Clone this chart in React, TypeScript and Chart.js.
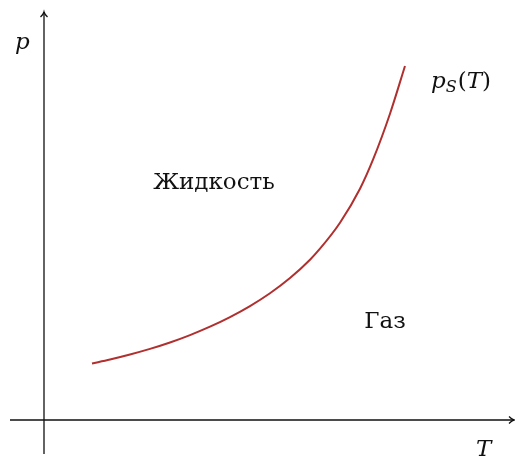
import React, { useEffect, useRef } from "react";
import { Chart, registerables } from "chart.js";

Chart.register(...registerables);

// Saturation curve p_S(T) (arbitrary units)
const curveT = [4.8, 6.6, 8.6, 10.6, 12.6, 14.6, 16.6, 18.6, 20.6, 22.6, 24.6, 26.6, 27.6, 29.6, 31.6, 32.9, 34.6, 36.1];
const curveP = [5.65, 6.05, 6.55, 7.11, 7.75, 8.49, 9.33, 10.29, 11.39, 12.67, 14.19, 16.03, 17.13, 19.73, 23.13, 26.03, 30.63, 35.4];

// Axis ranges
const xRange = [-4.4, 47.1];
const yRange = [-3.8, 42.0];

// Region labels
const labelTexts = ["Жидкость", "Газ"];
const labelT = [17.0, 34.1];
const labelP = [23.1, 9.2];

const SERIF = '"DejaVu Serif"';

const axisPlugin = {
  id: "axesArrows",
  afterDraw(chart: any) {
    const { ctx } = chart;
    const xs = chart.scales.x;
    const ys = chart.scales.y;
    const x0 = xs.getPixelForValue(0);
    const y0 = ys.getPixelForValue(0);
    ctx.save();
    ctx.strokeStyle = "#111";
    ctx.lineWidth = 1.3;
    ctx.beginPath();
    ctx.moveTo(xs.getPixelForValue(-3.4), y0);
    ctx.lineTo(xs.getPixelForValue(47.0), y0);
    ctx.moveTo(x0, ys.getPixelForValue(-3.4));
    ctx.lineTo(x0, ys.getPixelForValue(40.8));
    ctx.stroke();
    const xe = xs.getPixelForValue(47.0);
    const yt = ys.getPixelForValue(40.8);
    ctx.beginPath();
    ctx.moveTo(xe - 5, y0 - 3.5);
    ctx.quadraticCurveTo(xe - 2, y0 - 0.5, xe, y0);
    ctx.quadraticCurveTo(xe - 2, y0 + 0.5, xe - 5, y0 + 3.5);
    ctx.moveTo(x0 - 3.5, yt + 5);
    ctx.quadraticCurveTo(x0 - 0.5, yt + 2, x0, yt);
    ctx.quadraticCurveTo(x0 + 0.5, yt + 2, x0 + 3.5, yt + 5);
    ctx.stroke();

    ctx.fillStyle = "#111";
    ctx.textBaseline = "alphabetic";
    ctx.font = `23px ${SERIF}`;
    ctx.textAlign = "center";
    for (let i = 0; i < labelTexts.length; i++) {
      ctx.fillText(labelTexts[i], xs.getPixelForValue(labelT[i]), ys.getPixelForValue(labelP[i]));
    }
    ctx.font = `italic 23px ${SERIF}`;
    ctx.textAlign = "left";
    ctx.fillText("p", 15, ys.getPixelForValue(37.1));
    ctx.fillText("T", 476, ys.getPixelForValue(-3.6));
    let x = 431;
    const yb = 88;
    ctx.font = `italic 23px ${SERIF}`;
    ctx.fillText("p", x, yb);
    x += ctx.measureText("p").width;
    ctx.font = `italic 16px ${SERIF}`;
    ctx.fillText("S", x, yb + 4);
    x += ctx.measureText("S").width + 1;
    ctx.font = `23px ${SERIF}`;
    ctx.fillText("(", x, yb);
    x += ctx.measureText("(").width;
    ctx.font = `italic 23px ${SERIF}`;
    ctx.fillText("T", x, yb);
    x += ctx.measureText("T").width;
    ctx.font = `23px ${SERIF}`;
    ctx.fillText(")", x, yb);
    ctx.restore();
  },
};

export default function App() {
  const ref = useRef<HTMLCanvasElement>(null);
  useEffect(() => {
    document.body.style.margin = "0";
    const chart = new Chart(ref.current!, {
      type: "line",
      data: {
        datasets: [
          {
            data: curveT.map((t, i) => ({ x: t, y: curveP[i] })),
            borderColor: "#b0302f",
            borderWidth: 2,
            pointRadius: 0,
            cubicInterpolationMode: "monotone",
            fill: false,
          },
        ],
      },
      options: {
        animation: false,
        responsive: false,
        layout: { padding: 0 },
        plugins: { legend: { display: false }, tooltip: { enabled: false } },
        scales: {
          x: { type: "linear", min: xRange[0], max: xRange[1], display: false },
          y: { type: "linear", min: yRange[0], max: yRange[1], display: false },
        },
      },
      plugins: [axisPlugin],
    });
    return () => chart.destroy();
  }, []);
  return (
    <div style={{ width: 515, height: 458 }}>
      <canvas ref={ref} width={515} height={458} />
    </div>
  );
}
